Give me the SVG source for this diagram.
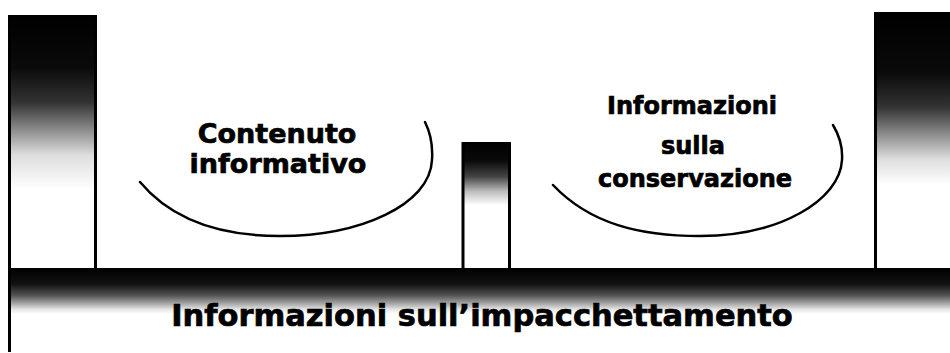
<svg xmlns="http://www.w3.org/2000/svg" width="950" height="353" viewBox="0 0 950 353">
<defs>
<linearGradient id="gLeft" gradientUnits="userSpaceOnUse" x1="0" y1="15" x2="0" y2="190">
<stop offset="0" stop-color="#000"/>
<stop offset="0.3" stop-color="#0a0a0a"/>
<stop offset="0.5" stop-color="#333"/>
<stop offset="0.65" stop-color="#888"/>
<stop offset="0.8" stop-color="#ddd"/>
<stop offset="1" stop-color="#fff"/>
</linearGradient>
<linearGradient id="gRight" gradientUnits="userSpaceOnUse" x1="0" y1="12" x2="0" y2="185">
<stop offset="0" stop-color="#000"/>
<stop offset="0.35" stop-color="#0a0a0a"/>
<stop offset="0.55" stop-color="#333"/>
<stop offset="0.7" stop-color="#888"/>
<stop offset="0.85" stop-color="#ddd"/>
<stop offset="1" stop-color="#fff"/>
</linearGradient>
<linearGradient id="gMid" gradientUnits="userSpaceOnUse" x1="0" y1="142" x2="0" y2="205">
<stop offset="0" stop-color="#000"/>
<stop offset="0.3" stop-color="#0a0a0a"/>
<stop offset="0.55" stop-color="#444"/>
<stop offset="0.78" stop-color="#bbb"/>
<stop offset="1" stop-color="#fff"/>
</linearGradient>
<linearGradient id="gBar" gradientUnits="userSpaceOnUse" x1="0" y1="268" x2="0" y2="314">
<stop offset="0" stop-color="#000"/>
<stop offset="0.35" stop-color="#111"/>
<stop offset="0.6" stop-color="#555"/>
<stop offset="0.78" stop-color="#aaa"/>
<stop offset="0.9" stop-color="#e6e6e6"/>
<stop offset="1" stop-color="#fff"/>
</linearGradient>
</defs>
<style>
.edge{stroke:#000;stroke-width:3;fill:none}
.arc{stroke:#000;stroke-width:2.5;fill:none;stroke-linecap:round}
.lbl{font-family:"DejaVu Sans",Verdana,sans-serif;font-weight:bold;fill:#000;stroke:#000;stroke-width:0.7;text-anchor:middle}
</style>
<rect width="950" height="353" fill="#fff"/>
<g id="bar">
<rect x="9" y="268" width="941" height="46" fill="url(#gBar)"/>
<line class="edge" x1="9.5" y1="268" x2="9.5" y2="352"/>
<text class="lbl" x="482" y="326" font-size="30.5">Informazioni sull’impacchettamento</text>
</g>
<g id="pillar-left">
<rect x="9" y="15" width="87" height="253" fill="url(#gLeft)"/>
<line class="edge" x1="9.5" y1="15" x2="9.5" y2="268"/>
<line class="edge" x1="95.5" y1="15" x2="95.5" y2="268"/>
</g>
<g id="pillar-middle">
<rect x="462" y="142" width="48" height="126" fill="url(#gMid)"/>
<line class="edge" x1="463" y1="142" x2="463" y2="268"/>
<line class="edge" x1="509.5" y1="142" x2="509.5" y2="268"/>
</g>
<g id="pillar-right">
<rect x="875" y="12" width="75" height="256" fill="url(#gRight)"/>
<line class="edge" x1="875.5" y1="12" x2="875.5" y2="268"/>
</g>
<g id="node-contenuto">
<path class="arc" d="M140,182 C175,224 230,236 280,236 C360,236 430,205 432,160 C433,145 430,132 425,122"/>
<text class="lbl" x="277" y="143" font-size="27">Contenuto</text>
<text class="lbl" x="278" y="173" font-size="27">informativo</text>
</g>
<g id="node-conservazione">
<path class="arc" d="M553,185 C590,224 640,236 700,236 C780,236 840,200 842,160 C843,145 839,135 833,125"/>
<text class="lbl" x="692" y="114" font-size="24">Informazioni</text>
<text class="lbl" x="693" y="154" font-size="24">sulla</text>
<text class="lbl" x="695" y="187" font-size="24">conservazione</text>
</g>
</svg>
